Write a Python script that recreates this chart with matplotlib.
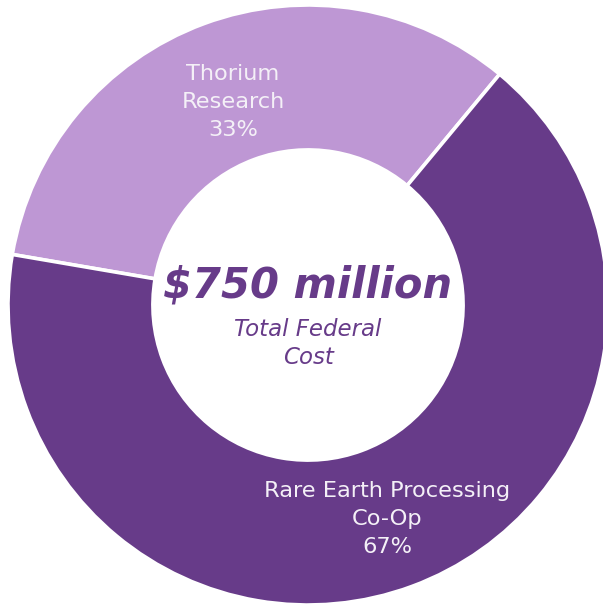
import numpy as np
import matplotlib.pyplot as plt

# Federal cost split, $ millions
programs = ["Thorium\nResearch", "Rare Earth Processing\nCo-Op"]
costs = [250, 500]
colors = ["#BE97D4", "#673B89"]
total_label = "$750 million"
subtitle = "Total Federal\nCost"

fig = plt.figure(figsize=(6.03, 6.06), dpi=100)
ax = fig.add_axes([0, 0, 1, 1])

wedges, _ = ax.pie(costs, colors=colors, startangle=50.3, counterclock=True,
                   radius=1.0, wedgeprops=dict(width=0.483, edgecolor="white", linewidth=2.6))

# slice labels sit at each wedge's mid-angle
shares = np.array(costs) / sum(costs) * 100
label_r = [0.72, 0.76]
for w, name, pct, r in zip(wedges, programs, shares, label_r):
    mid = np.deg2rad((w.theta1 + w.theta2) / 2)
    ax.text(r * np.cos(mid), r * np.sin(mid), f"{name}\n{pct:.0f}%",
            ha="center", va="center", color="#F4F0F7", fontsize=16.2,
            linespacing=1.5, family="DejaVu Sans")

ax.text(0, 0.065, total_label, ha="center", va="center", color="#673B89",
        fontsize=30, fontweight="bold", fontstyle="italic")
ax.text(0, -0.128, subtitle, ha="center", va="center", color="#673B89",
        fontsize=16.5, fontstyle="italic", linespacing=1.3)

ax.set_xlim(-308 / 300, 295 / 300)
ax.set_ylim(-301 / 300, 305 / 300)
ax.set_aspect("auto")
ax.axis("off")

fig.savefig("out.png", dpi=100)
